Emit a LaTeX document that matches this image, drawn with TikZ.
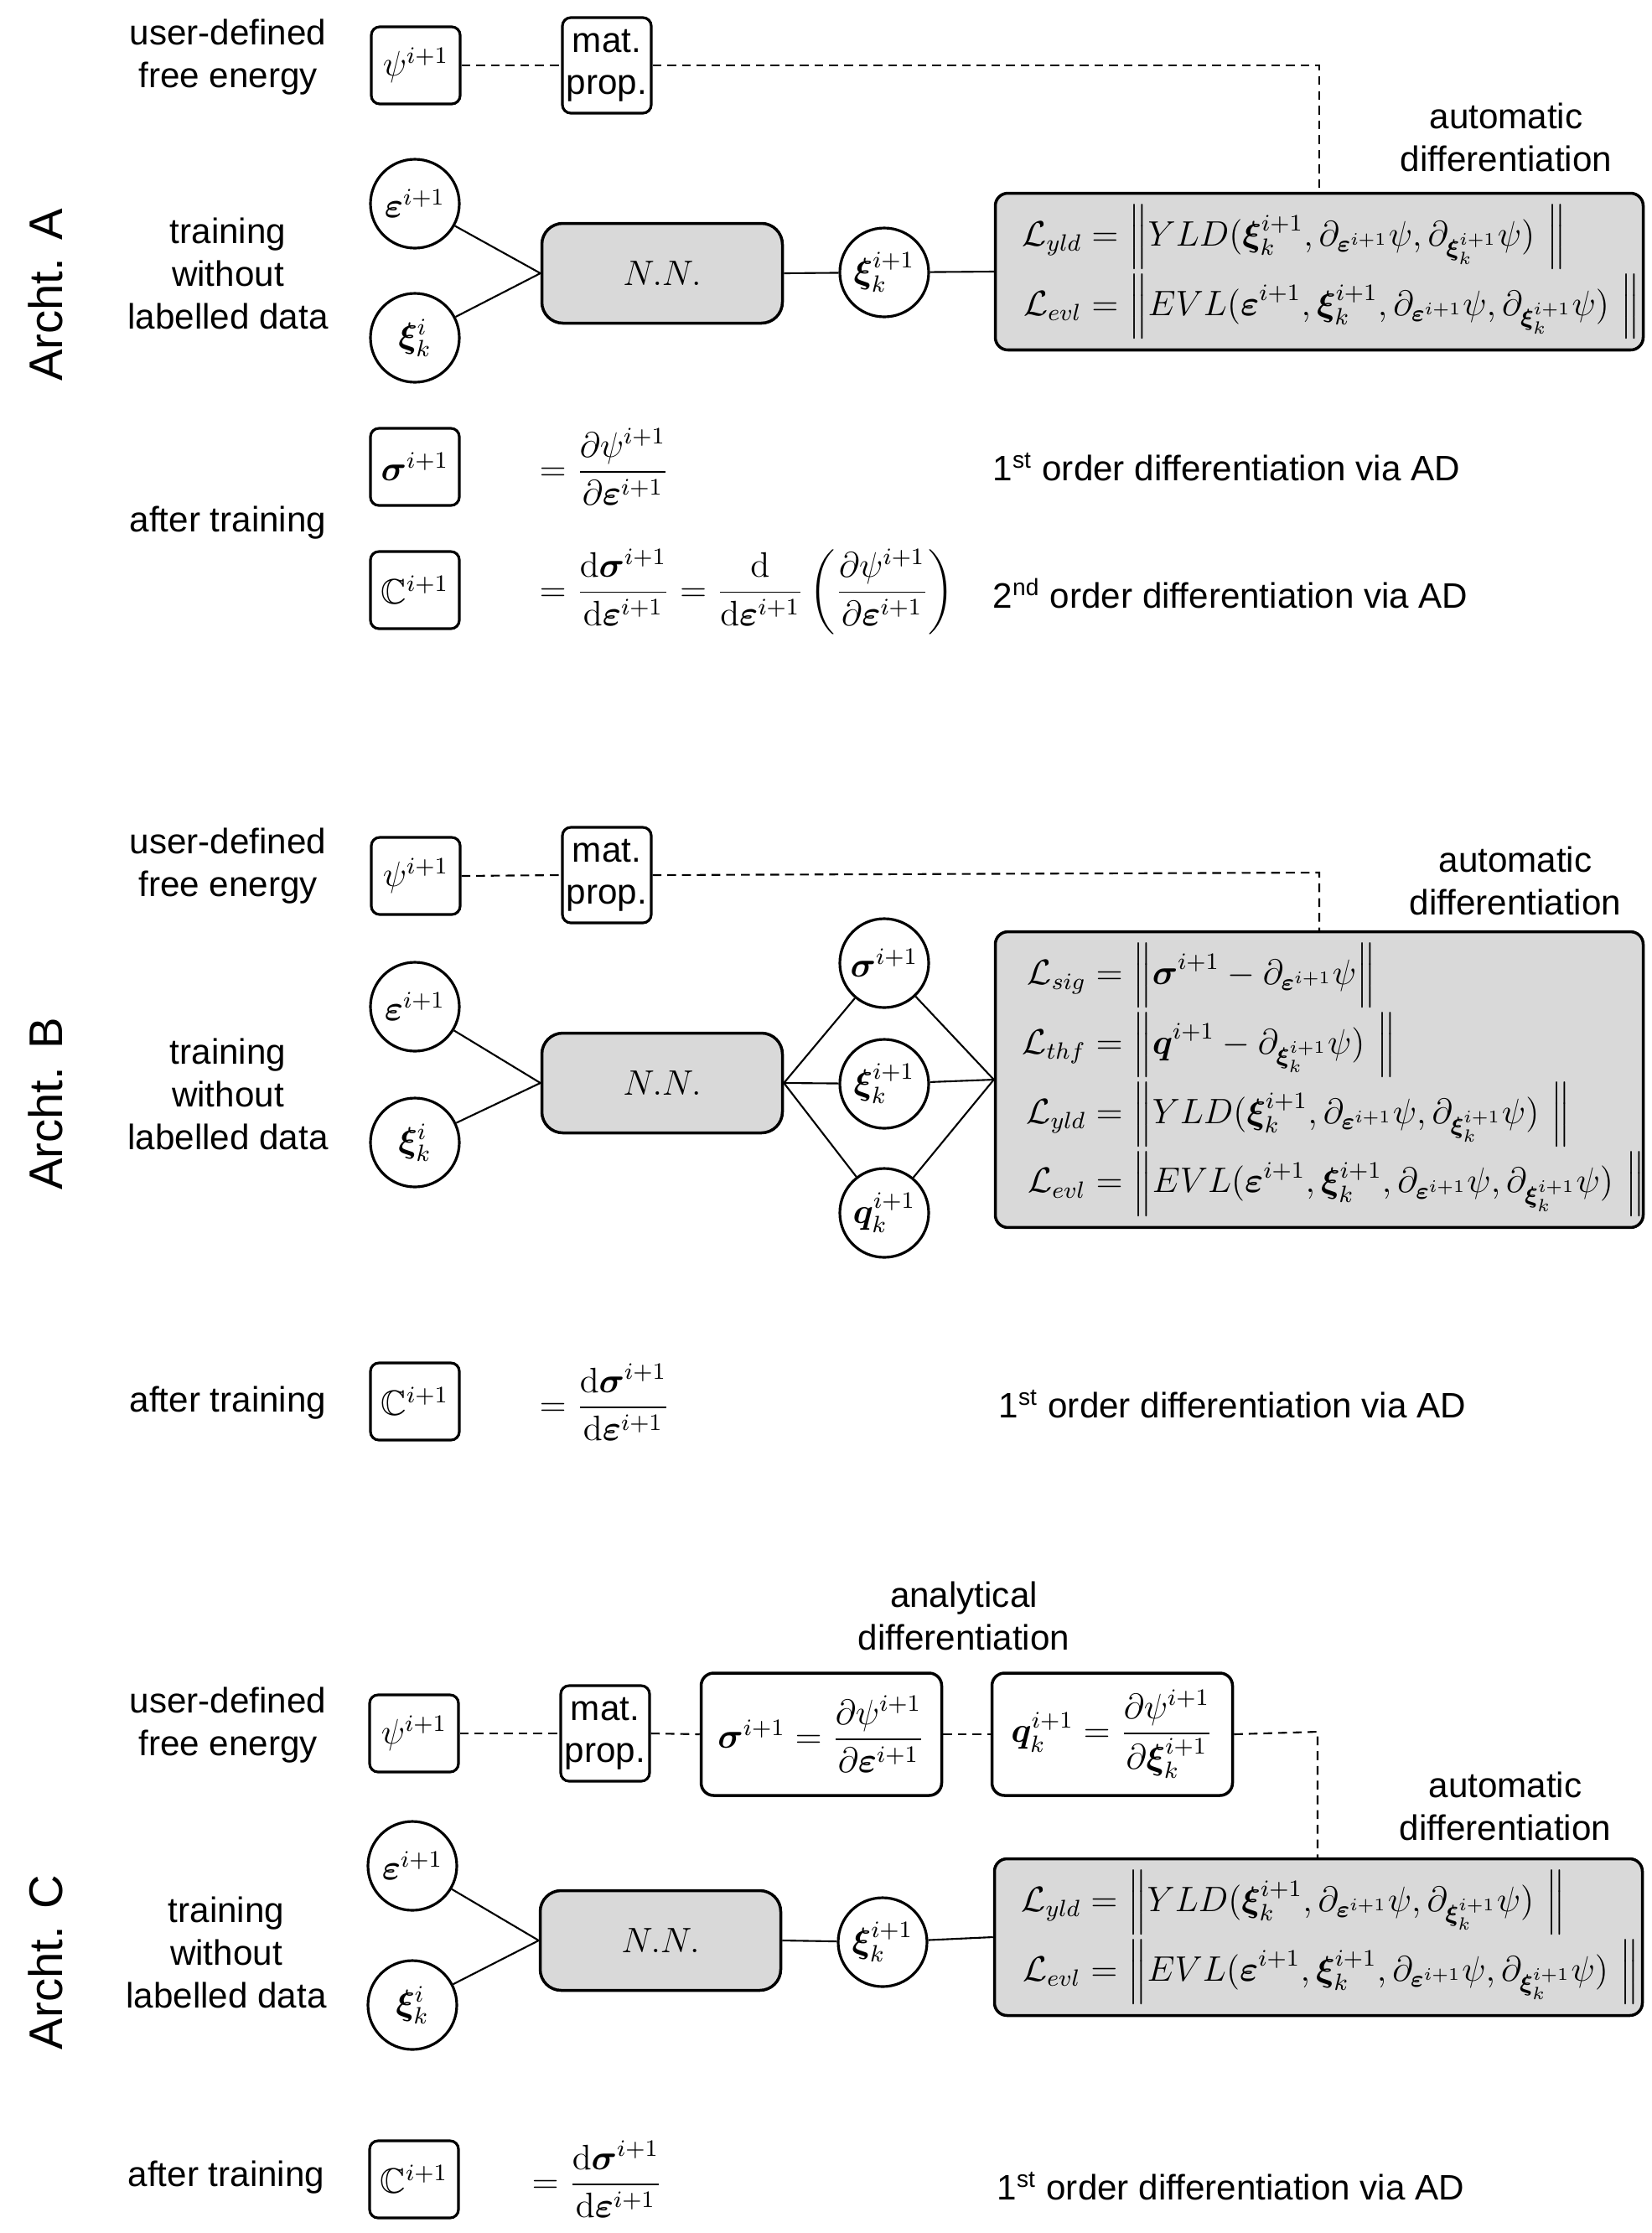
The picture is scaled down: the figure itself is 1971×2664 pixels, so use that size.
\documentclass[12pt,tikz,border=0pt]{standalone}
\usepackage{amsmath,amssymb,bm}
\usepackage[no-math]{fontspec}
\setmainfont{Liberation Sans}
\usetikzlibrary{calc}
\definecolor{nngray}{RGB}{217,217,217}
\newcommand{\beps}{\bm{\varepsilon}}
\newcommand{\bxi}{\bm{\xi}}
\newcommand{\bsig}{\bm{\sigma}}
\newcommand{\bq}{\bm{q}}
\newcommand{\nl}{\Bigl\|}
\newcommand{\nr}{\Bigr\|}
\begin{document}
\begin{tikzpicture}[x=0.1mm,y=-0.1mm,
  lbl/.style={align=center, inner sep=0pt},
  arch/.style={rotate=90, font=\fontsize{16}{19}\selectfont, inner sep=0pt},
  sbox/.style={draw, line width=0.9pt, rounded corners=1mm, minimum width=10.6mm, minimum height=9.2mm, inner sep=0pt},
  matbox/.style={sbox, minimum height=11.4mm, align=center, font=\fontsize{12}{14.2}\selectfont},
  circ/.style={draw, circle, line width=0.9pt, minimum size=10.6mm, inner sep=0pt},
  nnbox/.style={draw, line width=1pt, rounded corners=2.5mm, fill=nngray, minimum width=28.7mm, minimum height=11.9mm},
  lossbox/.style={draw, line width=1pt, rounded corners=1.5mm, fill=nngray, text width=70.9mm, inner xsep=3.2mm, align=left},
  anbox/.style={draw, line width=1pt, rounded corners=1.5mm, minimum width=28.7mm, minimum height=14.6mm, inner sep=0pt},
  conn/.style={line width=0.6pt},
  dline/.style={line width=0.6pt, dash pattern=on 3pt off 2pt},
]
\useasboundingbox (0,0) rectangle (1971,2664);

%%%%%%%%%%%%%%%% Arch A
\node[arch] (archA) at (54,352) {Archt. A};
\node[lbl] (udA) at (272,68) {user-defined\\free energy};
\node[sbox] (psiA) at (496,78) {$\psi^{i+1}$};
\node[matbox] (matA) at (724,78) {mat.\\prop.};
\node[lbl] (adA) at (1797,164) {automatic\\differentiation};
\node[lossbox, minimum height=18.6mm] (lossA) at (1574,324) {$\begin{aligned}
\mathcal{L}_{yld} &= \nl YLD(\bxi_k^{i+1},\partial_{\beps^{i+1}}\psi,\partial_{\bxi_k^{i+1}}\psi)\ \nr\\[-2pt]
\mathcal{L}_{evl} &= \nl EVL(\beps^{i+1},\bxi_k^{i+1},\partial_{\beps^{i+1}}\psi,\partial_{\bxi_k^{i+1}}\psi)\ \nr
\end{aligned}$};
\coordinate (tapA) at (1574,78);
\draw[dline] (psiA.east) -- (matA.west);
\draw[dline] (matA.east) -- (tapA) -- (tapA |- lossA.north);

\node[lbl] (trA) at (272,326) {training\\without\\labelled data};
\node[circ] (epsA) at (495,243) {$\beps^{i+1}$};
\node[circ] (xiiA) at (495,403) {$\bxi_k^{i}$};
\node[nnbox] (nnA) at (790,326) {$N.N.$};
\node[circ] (xiA) at (1055,325) {$\bxi_k^{i+1}$};
\draw[conn] (epsA) -- (nnA.west);
\draw[conn] (xiiA) -- (nnA.west);
\draw[conn] (nnA.east) -- (xiA) -- (lossA.west);

\node[lbl] (atA) at (272,624) {after training};
\node[sbox] (sigA) at (495,557) {$\bsig^{i+1}$};
\node[sbox] (cA) at (495,704) {$\mathbb{C}^{i+1}$};
\node[anchor=west, inner sep=0pt] (eqA1) at (643,557) {$=\dfrac{\partial\psi^{i+1}}{\partial\beps^{i+1}}$};
\node[anchor=west, inner sep=0pt] (eqA2) at (643,706) {$=\dfrac{\mathrm{d}\bsig^{i+1}}{\mathrm{d}\beps^{i+1}}=\dfrac{\mathrm{d}}{\mathrm{d}\beps^{i+1}}\left(\dfrac{\partial\psi^{i+1}}{\partial\beps^{i+1}}\right)$};
\node[anchor=west, inner sep=0pt] (oA1) at (1184,557) {1\textsuperscript{st} order differentiation via AD};
\node[anchor=west, inner sep=0pt] (oA2) at (1184,708) {2\textsuperscript{nd} order differentiation via AD};

%%%%%%%%%%%%%%%% Arch B
\node[arch] (archB) at (54,1317) {Archt. B};
\node[lbl] (udB) at (272,1033) {user-defined\\free energy};
\node[sbox] (psiB) at (496,1045) {$\psi^{i+1}$};
\node[matbox] (matB) at (724,1044) {mat.\\prop.};
\node[lbl] (adB) at (1808,1051) {automatic\\differentiation};
\node[lossbox, minimum height=34.7mm] (lossB) at (1574,1288) {$\begin{aligned}
\mathcal{L}_{sig} &= \nl \bsig^{i+1}-\partial_{\beps^{i+1}}\psi\nr\\[-2pt]
\mathcal{L}_{thf} &= \nl \bq^{i+1}-\partial_{\bxi_k^{i+1}}\psi)\ \nr\\[-2pt]
\mathcal{L}_{yld} &= \nl YLD(\bxi_k^{i+1},\partial_{\beps^{i+1}}\psi,\partial_{\bxi_k^{i+1}}\psi)\ \nr\\[-2pt]
\mathcal{L}_{evl} &= \nl EVL(\beps^{i+1},\bxi_k^{i+1},\partial_{\beps^{i+1}}\psi,\partial_{\bxi_k^{i+1}}\psi)\ \nr
\end{aligned}$};
\coordinate (tapB) at (1574,1041);
\draw[dline] (psiB.east) -- (matB.west);
\draw[dline] (matB.east) -- (tapB) -- (tapB |- lossB.north);

\node[lbl] (trB) at (272,1305) {training\\without\\labelled data};
\node[circ] (epsB) at (495,1201) {$\beps^{i+1}$};
\node[circ] (xiiB) at (495,1363) {$\bxi_k^{i}$};
\node[nnbox] (nnB) at (790,1292) {$N.N.$};
\node[circ] (sigB) at (1055,1149) {$\bsig^{i+1}$};
\node[circ] (xiB) at (1055,1293) {$\bxi_k^{i+1}$};
\node[circ] (qB) at (1055,1447) {$\bq_k^{i+1}$};
\draw[conn] (epsB) -- (nnB.west);
\draw[conn] (xiiB) -- (nnB.west);
\draw[conn] (nnB.east) -- (sigB) -- (lossB.west);
\draw[conn] (nnB.east) -- (xiB) -- (lossB.west);
\draw[conn] (nnB.east) -- (qB) -- (lossB.west);

\node[lbl] (atB) at (272,1674) {after training};
\node[sbox] (cB) at (495,1672) {$\mathbb{C}^{i+1}$};
\node[anchor=west, inner sep=0pt] (eqB) at (643,1673) {$=\dfrac{\mathrm{d}\bsig^{i+1}}{\mathrm{d}\beps^{i+1}}$};
\node[anchor=west, inner sep=0pt] (oB) at (1191,1675) {1\textsuperscript{st} order differentiation via AD};

%%%%%%%%%%%%%%%% Arch C
\node[arch] (archC) at (54,2341) {Archt. C};
\node[lbl] (anC) at (1150,1928) {analytical\\differentiation};
\node[lbl] (udC) at (272,2058) {user-defined\\free energy};
\node[sbox] (psiC) at (494,2068) {$\psi^{i+1}$};
\node[matbox] (matC) at (722,2068) {mat.\\prop.};
\node[anbox] (sigC) at (980,2069) {$\bsig^{i+1}=\dfrac{\partial\psi^{i+1}}{\partial\beps^{i+1}}$};
\node[anbox] (qC) at (1327,2069) {$\bq_k^{i+1}=\dfrac{\partial\psi^{i+1}}{\partial\bxi_k^{i+1}}$};
\node[lbl] (adC) at (1796,2155) {automatic\\differentiation};
\node[lossbox, minimum height=18.5mm] (lossC) at (1573,2311) {$\begin{aligned}
\mathcal{L}_{yld} &= \nl YLD(\bxi_k^{i+1},\partial_{\beps^{i+1}}\psi,\partial_{\bxi_k^{i+1}}\psi)\ \nr\\[-2pt]
\mathcal{L}_{evl} &= \nl EVL(\beps^{i+1},\bxi_k^{i+1},\partial_{\beps^{i+1}}\psi,\partial_{\bxi_k^{i+1}}\psi)\ \nr
\end{aligned}$};
\coordinate (tapC) at (1572,2066);
\draw[dline] (psiC.east) -- (matC.west);
\draw[dline] (matC.east) -- (sigC.west);
\draw[dline] (sigC.east) -- (qC.west);
\draw[dline] (qC.east) -- (tapC) -- (tapC |- lossC.north);

\node[lbl] (trC) at (270,2329) {training\\without\\labelled data};
\node[circ] (epsC) at (492,2226) {$\beps^{i+1}$};
\node[circ] (xiiC) at (492,2392) {$\bxi_k^{i}$};
\node[nnbox] (nnC) at (788,2315) {$N.N.$};
\node[circ] (xiC) at (1053,2317) {$\bxi_k^{i+1}$};
\draw[conn] (epsC) -- (nnC.west);
\draw[conn] (xiiC) -- (nnC.west);
\draw[conn] (nnC.east) -- (xiC) -- (lossC.west);

\node[lbl] (atC) at (270,2598) {after training};
\node[sbox] (cC) at (494,2600) {$\mathbb{C}^{i+1}$};
\node[anchor=west, inner sep=0pt] (eqC) at (634,2600) {$=\dfrac{\mathrm{d}\bsig^{i+1}}{\mathrm{d}\beps^{i+1}}$};
\node[anchor=west, inner sep=0pt] (oC) at (1189,2608) {1\textsuperscript{st} order differentiation via AD};
\end{tikzpicture}
\end{document}
